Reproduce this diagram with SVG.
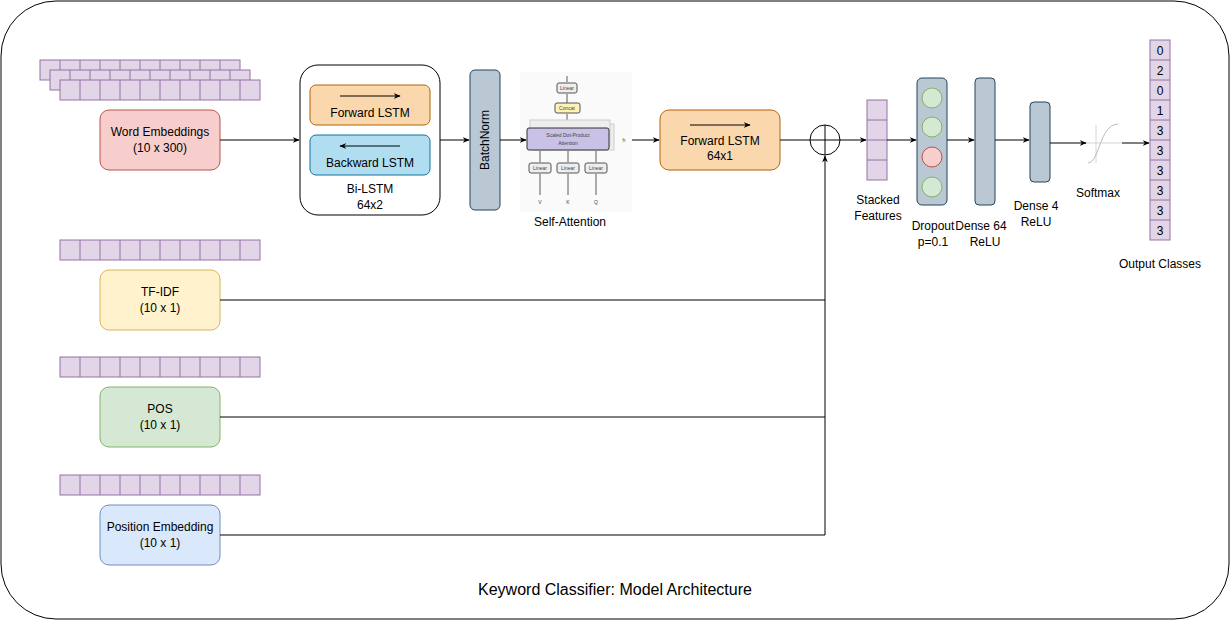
<svg xmlns="http://www.w3.org/2000/svg" width="1231" height="621" viewBox="0 0 1231 621">
<defs>
<style>
text{font-family:"Liberation Sans",Arial,sans-serif;font-size:12px;fill:#000;text-anchor:middle}
.c{fill:#e1d5e7;stroke:#9673a6;stroke-width:1}
.ln{fill:none;stroke:#000;stroke-width:1}
.sm{font-size:5px;fill:#444}
</style>
<marker id="a" viewBox="0 0 10 10" refX="9" refY="5" markerWidth="7" markerHeight="7" orient="auto"><path d="M0,1 L10,5 L0,9 L3,5z" fill="#000"/></marker>
<pattern id="cells" width="20" height="20" patternUnits="userSpaceOnUse"><rect x="0.5" y="0.5" width="20" height="20" class="c"/></pattern>
</defs>
<rect x="1" y="1" width="1228" height="618" rx="55" fill="#fff" stroke="#000"/>
<text x="615" y="595" style="font-size:16px">Keyword Classifier: Model Architecture</text>

<g id="embeddings-word">
<g transform="translate(40,60)"><rect width="200" height="20" fill="#e1d5e7" stroke="#9673a6"/><path d="M20 0v20M40 0v20M60 0v20M80 0v20M100 0v20M120 0v20M140 0v20M160 0v20M180 0v20" stroke="#9673a6"/></g>
<g transform="translate(50,70)"><rect width="200" height="20" fill="#e1d5e7" stroke="#9673a6"/><path d="M20 0v20M40 0v20M60 0v20M80 0v20M100 0v20M120 0v20M140 0v20M160 0v20M180 0v20" stroke="#9673a6"/></g>
<g transform="translate(60,80)"><rect width="200" height="20" fill="#e1d5e7" stroke="#9673a6"/><path d="M20 0v20M40 0v20M60 0v20M80 0v20M100 0v20M120 0v20M140 0v20M160 0v20M180 0v20" stroke="#9673a6"/></g>
</g>
<g id="embeddings-tfidf" transform="translate(60,240)"><rect width="200" height="20" fill="#e1d5e7" stroke="#9673a6"/><path d="M20 0v20M40 0v20M60 0v20M80 0v20M100 0v20M120 0v20M140 0v20M160 0v20M180 0v20" stroke="#9673a6"/></g>
<g id="embeddings-pos" transform="translate(60,357)"><rect width="200" height="20" fill="#e1d5e7" stroke="#9673a6"/><path d="M20 0v20M40 0v20M60 0v20M80 0v20M100 0v20M120 0v20M140 0v20M160 0v20M180 0v20" stroke="#9673a6"/></g>
<g id="embeddings-position" transform="translate(60,475)"><rect width="200" height="20" fill="#e1d5e7" stroke="#9673a6"/><path d="M20 0v20M40 0v20M60 0v20M80 0v20M100 0v20M120 0v20M140 0v20M160 0v20M180 0v20" stroke="#9673a6"/></g>

<g id="word-embeddings"><rect x="100" y="110" width="120" height="60" rx="9" fill="#f8cecc" stroke="#b85450"/><text x="160" y="136">Word Embeddings</text><text x="160" y="152">(10 x 300)</text></g>
<g id="tfidf"><rect x="100" y="270" width="120" height="60" rx="9" fill="#fff2cc" stroke="#d6b656"/><text x="160" y="296">TF-IDF</text><text x="160" y="312">(10 x 1)</text></g>
<g id="pos"><rect x="100" y="387" width="120" height="60" rx="9" fill="#d5e8d4" stroke="#82b366"/><text x="160" y="413">POS</text><text x="160" y="429">(10 x 1)</text></g>
<g id="position"><rect x="100" y="505" width="120" height="60" rx="9" fill="#dae8fc" stroke="#6c8ebf"/><text x="160" y="531">Position Embedding</text><text x="160" y="547">(10 x 1)</text></g>

<g id="bilstm">
<rect x="300" y="65" width="140" height="150" rx="18" fill="#fff" stroke="#000"/>
<rect x="310" y="85" width="120" height="40" rx="6" fill="#fad7ac" stroke="#b46504"/>
<line x1="340" y1="96" x2="400" y2="96" class="ln" marker-end="url(#a)"/>
<text x="370" y="117">Forward LSTM</text>
<rect x="310" y="135" width="120" height="40" rx="6" fill="#b1ddf0" stroke="#10739e"/>
<line x1="400" y1="146" x2="340" y2="146" class="ln" marker-end="url(#a)"/>
<text x="370" y="167">Backward LSTM</text>
<text x="370" y="193">Bi-LSTM</text><text x="370" y="209">64x2</text>
</g>

<g id="batchnorm"><rect x="470" y="70" width="30" height="140" rx="5" fill="#bac8d3" stroke="#23445d"/><text transform="translate(489,140) rotate(-90)">BatchNorm</text></g>

<g id="self-attention">
<rect x="520" y="72" width="112" height="140" fill="#fafafa"/>
<line x1="567" y1="82" x2="567" y2="76" stroke="#333" stroke-width="0.8"/>
<rect x="557" y="83" width="20" height="10" rx="2" fill="#eee" stroke="#555"/><text x="567" y="90" class="sm">Linear</text>
<line x1="567" y1="103" x2="567" y2="94" stroke="#333" stroke-width="0.8"/>
<rect x="555" y="103" width="25" height="10" rx="2" fill="#fdf3b5" stroke="#555"/><text x="567" y="110" class="sm">Concat</text>
<line x1="567" y1="122" x2="567" y2="114" stroke="#333" stroke-width="0.8"/>
<rect x="534" y="124" width="80" height="26" fill="#eee" stroke="#ccc"/>
<rect x="530" y="120" width="80" height="26" fill="#eee" stroke="#ccc"/>
<rect x="527" y="128" width="82" height="22" rx="2" fill="#c9c1e6" stroke="#333"/>
<text x="568" y="137" class="sm">Scaled Dot-Product</text><text x="568" y="145" class="sm">Attention</text>
<text x="624" y="142" class="sm">h</text>
<g fill="#eee" stroke="#555"><rect x="529" y="163" width="22" height="10" rx="2"/><rect x="557" y="163" width="22" height="10" rx="2"/><rect x="585" y="163" width="22" height="10" rx="2"/></g>
<text x="540" y="170" class="sm">Linear</text><text x="568" y="170" class="sm">Linear</text><text x="596" y="170" class="sm">Linear</text>
<path d="M540 195V174M568 195V174M596 195V174M540 162V151M568 162V151M596 162V151" stroke="#333" stroke-width="0.8"/>
<text x="540" y="204" class="sm">V</text><text x="568" y="204" class="sm">K</text><text x="596" y="204" class="sm">Q</text>
<text x="570" y="226">Self-Attention</text>
</g>

<g id="forward-lstm"><rect x="660" y="110" width="120" height="60" rx="9" fill="#fad7ac" stroke="#b46504"/><line x1="690" y1="125" x2="750" y2="125" class="ln" marker-end="url(#a)"/><text x="720" y="145">Forward LSTM</text><text x="720" y="160">64x1</text></g>

<g id="concat"><circle cx="825" cy="140" r="15" fill="#fff" stroke="#000"/><path d="M810 140h30M825 125v30" stroke="#000"/></g>

<g id="stacked"><rect x="867" y="100" width="20" height="80" fill="#e1d5e7" stroke="#9673a6"/><path d="M867 120h20M867 140h20M867 160h20" stroke="#9673a6"/><text x="878" y="204">Stacked</text><text x="878" y="220">Features</text></g>

<g id="dropout"><rect x="917" y="78" width="30" height="127" rx="5" fill="#bac8d3" stroke="#23445d"/>
<circle cx="932" cy="98" r="10" fill="#d5e8d4" stroke="#82b366"/><circle cx="932" cy="127" r="10" fill="#d5e8d4" stroke="#82b366"/><circle cx="932" cy="157" r="10" fill="#f8cecc" stroke="#b85450"/><circle cx="932" cy="187" r="10" fill="#d5e8d4" stroke="#82b366"/>
<text x="933" y="230">Dropout</text><text x="933" y="246">p=0.1</text></g>

<g id="dense64"><rect x="975" y="78" width="20" height="127" rx="4" fill="#bac8d3" stroke="#23445d"/><text x="981" y="230">Dense 64</text><text x="985" y="246">ReLU</text></g>
<g id="dense4"><rect x="1030" y="102" width="20" height="80" rx="4" fill="#bac8d3" stroke="#23445d"/><text x="1036" y="210">Dense 4</text><text x="1036" y="226">ReLU</text></g>

<g id="softmax"><path d="M1085 143h37M1096 125v38" stroke="#ccc" stroke-width="0.8"/><path d="M1088 163C1100 162 1099 125 1118 124" fill="none" stroke="#aaa" stroke-width="0.8"/><text x="1098" y="197">Softmax</text></g>

<g id="output">
<rect x="1150" y="40" width="20" height="200" fill="#e1d5e7" stroke="#9673a6"/>
<path d="M1150 60h20M1150 80h20M1150 100h20M1150 120h20M1150 140h20M1150 160h20M1150 180h20M1150 200h20M1150 220h20" stroke="#9673a6"/>
<text x="1160" y="55">0</text><text x="1160" y="75">2</text><text x="1160" y="95">0</text><text x="1160" y="115">1</text><text x="1160" y="135">3</text><text x="1160" y="155">3</text><text x="1160" y="175">3</text><text x="1160" y="195">3</text><text x="1160" y="215">3</text><text x="1160" y="235">3</text>
<text x="1160" y="268">Output Classes</text>
</g>

<g id="connectors" class="ln">
<line x1="220" y1="140" x2="299" y2="140" marker-end="url(#a)"/>
<line x1="440" y1="140" x2="469" y2="140" marker-end="url(#a)"/>
<line x1="500" y1="140" x2="526" y2="140" marker-end="url(#a)"/>
<line x1="632" y1="140" x2="659" y2="140" marker-end="url(#a)"/>
<line x1="780" y1="140" x2="810" y2="140"/>
<line x1="840" y1="140" x2="866" y2="140" marker-end="url(#a)"/>
<line x1="887" y1="140" x2="916" y2="140" marker-end="url(#a)"/>
<line x1="947" y1="140" x2="974" y2="140" marker-end="url(#a)"/>
<line x1="995" y1="140" x2="1029" y2="140" marker-end="url(#a)"/>
<line x1="1050" y1="143" x2="1086" y2="143" marker-end="url(#a)"/>
<line x1="1122" y1="143" x2="1149" y2="143" marker-end="url(#a)"/>
<polyline points="220,300 825,300 825,156" marker-end="url(#a)"/>
<polyline points="220,417 825,417"/>
<polyline points="220,535 825,535 825,300"/>
</g>
</svg>
